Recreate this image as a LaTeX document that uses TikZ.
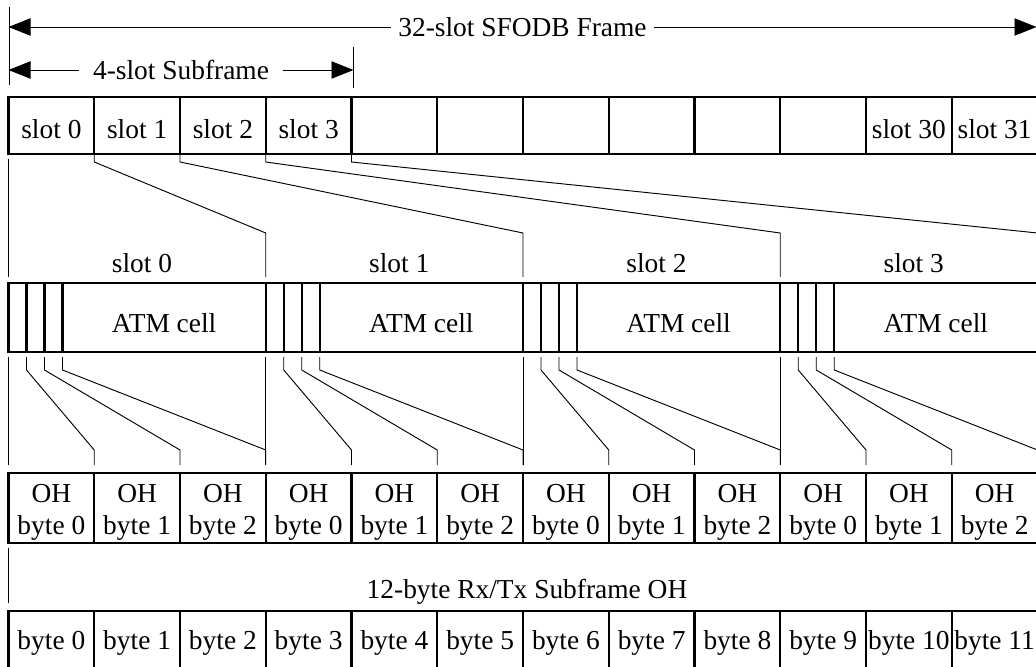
\documentclass[tikz,border=0pt]{standalone}
\usepackage{fontspec}
\setmainfont{Liberation Serif}
\usetikzlibrary{arrows.meta,calc}

\begin{document}
\begin{tikzpicture}[x=0.03cm, y=-0.03cm,
    font=\fontsize{23.4}{26.5}\selectfont,
    cell/.style={draw, line width=2pt, inner sep=0pt, outer sep=0pt, anchor=north west, minimum width=2.5725cm, align=center},
    link/.style={line width=0.8pt},
    dim/.style={line width=0.8pt, {Triangle[length=0.66cm,width=0.52cm]}-{Triangle[length=0.66cm,width=0.52cm]}}
  ]
  \useasboundingbox (0,0) rectangle (1036,666);
  \clip (0,0) rectangle (1036,666);

  % SFODB frame
  \foreach \i/\t in {0/slot 0, 1/slot 1, 2/slot 2, 3/slot 3, 4/, 5/, 6/, 7/, 8/, 9/, 10/slot 30, 11/slot 31}
    \node[cell, minimum height=1.71cm, text height=23pt, text depth=0pt] (s\i) at (8.5+85.75*\i, 97) {\t};

  % one subframe of ATM cells
  \foreach \j in {0,...,3} {
    \node[cell, minimum width=0.54cm, minimum height=2.07cm] (c\j-0) at (8.5+257.25*\j, 283) {};
    \node[cell, minimum width=0.54cm, minimum height=2.07cm] (c\j-1) at (c\j-0.north east) {};
    \node[cell, minimum width=0.54cm, minimum height=2.07cm] (c\j-2) at (c\j-1.north east) {};
    \node[cell, minimum width=6.0975cm, minimum height=2.07cm, text height=25.5pt, text depth=0pt] (atm\j) at (c\j-2.north east) {ATM cell};
    \node (lbl\j) at (142+257.25*\j, 263) {slot \j};
  }

  % OH bytes
  \foreach \i in {0,...,11} {
    \pgfmathtruncatemacro\k{mod(\i,3)}
    \node[cell, minimum height=2.1cm, text height=44.4pt, text depth=0pt] (oh\i) at (8.5+85.75*\i, 473) {OH\\byte \k};
  }
  \foreach \i in {0,...,11}
    \node[cell, minimum height=1.8cm, text depth=2pt] (byte\i) at (8.5+85.75*\i, 611) {byte \i};
  \node (ohlbl) at (527, 592) {12-byte Rx/Tx Subframe OH};

  % dimension arrows
  \coordinate (frame) at (0,27);
  \coordinate (sub) at (0,70);
  \draw[link] ($(s0.north west)+(1,-90)$) -- ($(s0.north west)+(1,-12)$);
  \draw[link] ($(s4.north west)+(2,-50)$) -- ($(s4.north west)+(2,-9)$);
  \draw[dim] (s0.north west |- frame) -- node[fill=white, inner xsep=6pt] {32-slot SFODB Frame} ($(s11.north east |- frame)+(-1,0)$);
  \draw[dim] (s0.north west |- sub) -- node[fill=white, inner xsep=12pt] {4-slot Subframe} ($(s4.north west |- sub)+(2,0)$);

  % slots to cells
  \draw[link] ($(s0.south west)+(0,5)$) -- ($(c0-0.north west)+(0,-6)$);
  \foreach \i/\t in {1/c1-0.north west, 2/c2-0.north west, 3/c3-0.north west, 4/atm3.north east}
    \draw[link] (s\i.south west) -- ++(0,8) -- ($(\t)+(0,-50)$) -- ($(\t)+(0,-6)$);

  % cells to OH bytes
  \foreach \j in {0,...,3} {
    \pgfmathtruncatemacro\n{3*\j}
    \draw[link] ($(c\j-0.south west)+(0,5)$) -- ($(oh\n.north west)+(0,-8)$);
  }
  \foreach \s/\t in {c0-1/oh1.north west, c0-2/oh2.north west, atm0/oh3.north west,
                     c1-1/oh4.north west, c1-2/oh5.north west, atm1/oh6.north west,
                     c2-1/oh7.north west, c2-2/oh8.north west, atm2/oh9.north west,
                     c3-1/oh10.north west, c3-2/oh11.north west, atm3/oh11.north east}
    \draw[link] ($(\s.south west)+(0,5)$) -- ++(0,13) -- ($(\t)+(0,-23)$) -- ($(\t)+(0,-8)$);

  \draw[link] ($(oh0.south west)+(0,5)$) -- ($(byte0.north west)+(0,-8)$);
\end{tikzpicture}
\end{document}
